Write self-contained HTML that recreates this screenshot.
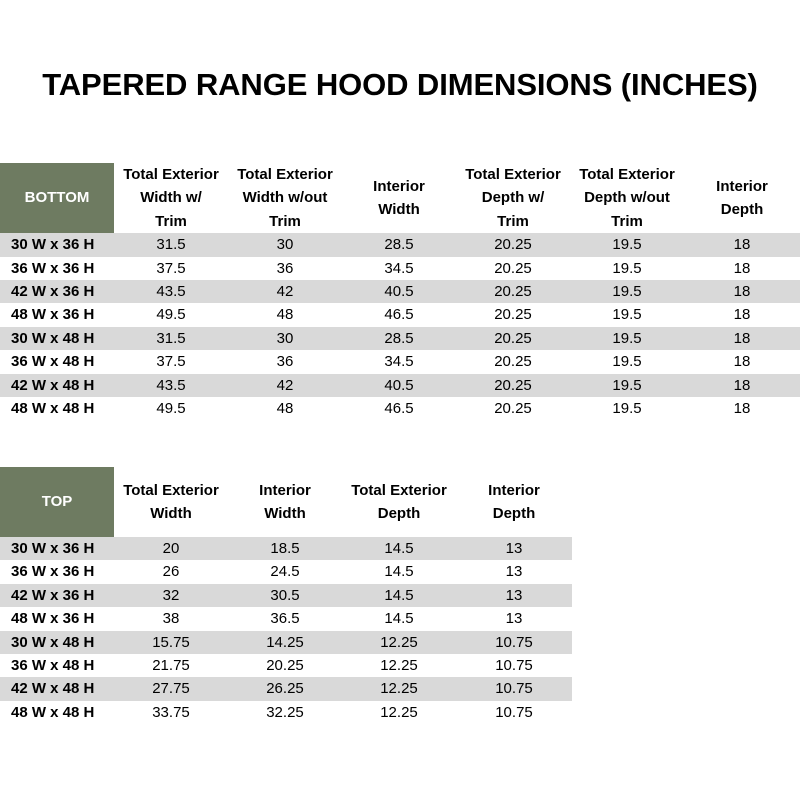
<!DOCTYPE html>
<html><head><meta charset="utf-8"><style>
body{margin:0;width:800px;height:800px;background:#fff;position:relative;font-family:"Liberation Sans",sans-serif;color:#000;overflow:hidden}
.t{position:absolute;left:0;top:67px;width:800px;text-align:center;font-weight:bold;font-size:31px;letter-spacing:-0.1px}
table{position:absolute;left:0;border-collapse:collapse;font-size:15px}
td{padding:0;text-align:center;height:23.4px;line-height:23.4px;white-space:nowrap}
th{padding:0;font-weight:bold;font-size:15px;line-height:23.4px;vertical-align:middle;height:70px}
th.g{background:#6e7b61;color:#fff;width:114px}
td.l{font-weight:bold;text-align:left;padding-left:11px}
tr.s td{background:#d9d9d9}
</style></head><body>
<div class="t">TAPERED RANGE HOOD DIMENSIONS (INCHES)</div>
<table style="top:163px;width:800px">
<tr><th class="g">BOTTOM</th><th style="width:114px">Total Exterior<br>Width w/<br>Trim</th><th style="width:114px">Total Exterior<br>Width w/out<br>Trim</th><th style="width:114px">Interior<br>Width</th><th style="width:114px">Total Exterior<br>Depth w/<br>Trim</th><th style="width:114px">Total Exterior<br>Depth w/out<br>Trim</th><th>Interior<br>Depth</th></tr>
<tr class="s"><td class="l">30 W x 36 H</td><td>31.5</td><td>30</td><td>28.5</td><td>20.25</td><td>19.5</td><td>18</td></tr>
<tr><td class="l">36 W x 36 H</td><td>37.5</td><td>36</td><td>34.5</td><td>20.25</td><td>19.5</td><td>18</td></tr>
<tr class="s"><td class="l">42 W x 36 H</td><td>43.5</td><td>42</td><td>40.5</td><td>20.25</td><td>19.5</td><td>18</td></tr>
<tr><td class="l">48 W x 36 H</td><td>49.5</td><td>48</td><td>46.5</td><td>20.25</td><td>19.5</td><td>18</td></tr>
<tr class="s"><td class="l">30 W x 48 H</td><td>31.5</td><td>30</td><td>28.5</td><td>20.25</td><td>19.5</td><td>18</td></tr>
<tr><td class="l">36 W x 48 H</td><td>37.5</td><td>36</td><td>34.5</td><td>20.25</td><td>19.5</td><td>18</td></tr>
<tr class="s"><td class="l">42 W x 48 H</td><td>43.5</td><td>42</td><td>40.5</td><td>20.25</td><td>19.5</td><td>18</td></tr>
<tr><td class="l">48 W x 48 H</td><td>49.5</td><td>48</td><td>46.5</td><td>20.25</td><td>19.5</td><td>18</td></tr>
</table>
<table style="top:467px;width:572px">
<tr><th class="g">TOP</th><th style="width:114px">Total Exterior<br>Width</th><th style="width:114px">Interior<br>Width</th><th style="width:114px">Total Exterior<br>Depth</th><th>Interior<br>Depth</th></tr>
<tr class="s"><td class="l">30 W x 36 H</td><td>20</td><td>18.5</td><td>14.5</td><td>13</td></tr>
<tr><td class="l">36 W x 36 H</td><td>26</td><td>24.5</td><td>14.5</td><td>13</td></tr>
<tr class="s"><td class="l">42 W x 36 H</td><td>32</td><td>30.5</td><td>14.5</td><td>13</td></tr>
<tr><td class="l">48 W x 36 H</td><td>38</td><td>36.5</td><td>14.5</td><td>13</td></tr>
<tr class="s"><td class="l">30 W x 48 H</td><td>15.75</td><td>14.25</td><td>12.25</td><td>10.75</td></tr>
<tr><td class="l">36 W x 48 H</td><td>21.75</td><td>20.25</td><td>12.25</td><td>10.75</td></tr>
<tr class="s"><td class="l">42 W x 48 H</td><td>27.75</td><td>26.25</td><td>12.25</td><td>10.75</td></tr>
<tr><td class="l">48 W x 48 H</td><td>33.75</td><td>32.25</td><td>12.25</td><td>10.75</td></tr>
</table>
</body></html>
